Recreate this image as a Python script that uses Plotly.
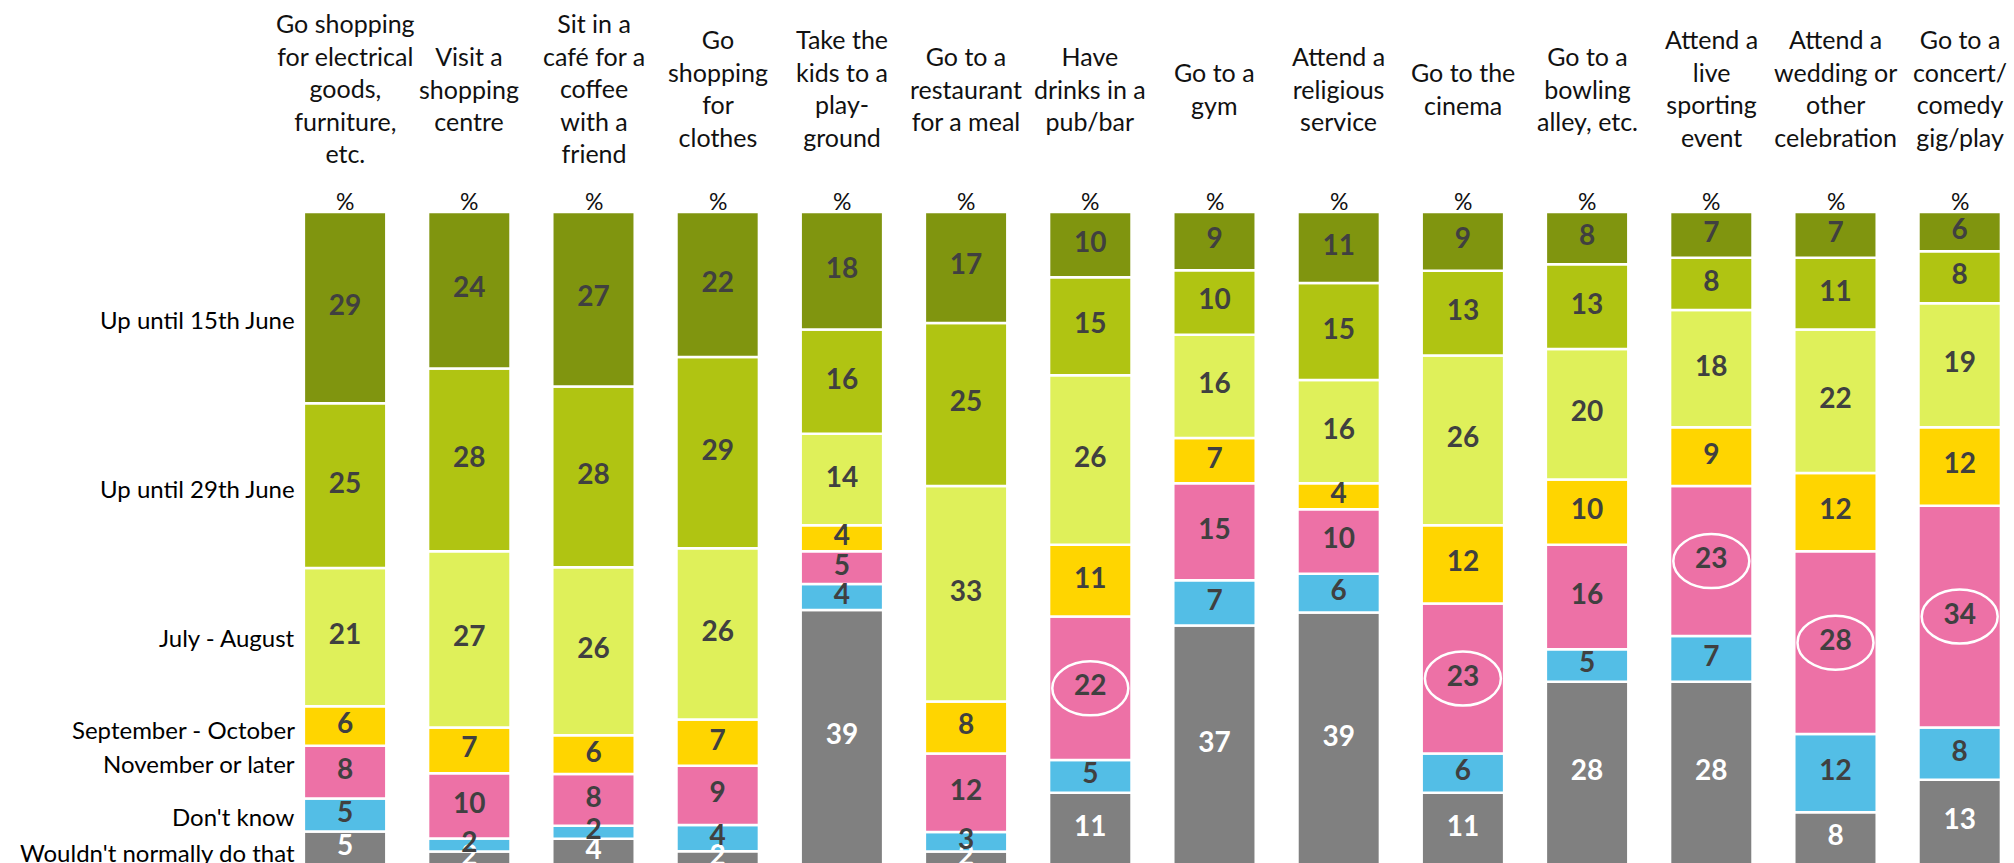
import plotly.graph_objects as go

# Activities (column headers, wrapped as printed)
activities = [
    "Go shopping<br>for electrical<br>goods,<br>furniture,<br>etc.",
    "Visit a<br>shopping<br>centre",
    "Sit in a<br>café for a<br>coffee<br>with a<br>friend",
    "Go<br>shopping<br>for<br>clothes",
    "Take the<br>kids to a<br>play-<br>ground",
    "Go to a<br>restaurant<br>for a meal",
    "Have<br>drinks in a<br>pub/bar",
    "Go to a<br>gym",
    "Attend a<br>religious<br>service",
    "Go to the<br>cinema",
    "Go to a<br>bowling<br>alley, etc.",
    "Attend a<br>live<br>sporting<br>event",
    "Attend a<br>wedding or<br>other<br>celebration",
    "Go to a<br>concert/<br>comedy<br>gig/play",
]

# Answer categories, listed top of bar to bottom
answers = [
    "Up until 15th June",
    "Up until 29th June",
    "July - August",
    "September - October",
    "November or later",
    "Don't know",
    "Wouldn't normally do that",
]

# Percentages per activity
up_to_15_june = [29, 24, 27, 22, 18, 17, 10, 9, 11, 9, 8, 7, 7, 6]
up_to_29_june = [25, 28, 28, 29, 16, 25, 15, 10, 15, 13, 13, 8, 11, 8]
july_august = [21, 27, 26, 26, 14, 33, 26, 16, 16, 26, 20, 18, 22, 19]
sept_october = [6, 7, 6, 7, 4, 8, 11, 7, 4, 12, 10, 9, 12, 12]
november_later = [8, 10, 8, 9, 5, 12, 22, 15, 10, 23, 16, 23, 28, 34]
dont_know = [5, 2, 2, 4, 4, 3, 5, 7, 6, 6, 5, 7, 12, 8]
wouldnt_do = [5, 2, 4, 2, 39, 2, 11, 37, 39, 11, 28, 28, 8, 13]

# Activities whose "November or later" share is ringed
ringed = [6, 9, 11, 12, 13]

series = [up_to_15_june, up_to_29_june, july_august, sept_october,
          november_later, dont_know, wouldnt_do]
colors = ["#80950F", "#B0C412", "#DFF05A", "#FFD500", "#ED71A6", "#53BEE6", "#808080"]
label_colors = ["#404040"] * 6 + ["#FFFFFF"]

# ---- layout geometry (pixels) ----
W, H = 2014, 863
LEFT, TOP = 283, 212
plot_w, plot_h = W - LEFT, H - TOP
STEP = 124.2          # pixels per activity column
PX_PER_PCT = 6.525    # pixels per percentage point
x_max = -0.5 + plot_w / STEP
y_min = 100 - plot_h / PX_PER_PCT


def paper_y(py):
    return (H - py) / plot_h


FONT = "Lato"
n = len(activities)
xs = list(range(n))
totals = [sum(s[i] for s in series) for i in range(n)]

fig = go.Figure()

# stack from bottom (last answer) to top (first answer), each column as 100%
order = list(range(len(series)))[::-1]
bases = [0.0] * n
centres = {}
for k in order:
    shares = [series[k][i] / totals[i] * 100 for i in range(n)]
    fig.add_trace(go.Bar(
        x=xs, y=shares, base=bases[:], width=0.664,
        marker=dict(color=colors[k], line=dict(color="white", width=2.5)),
        name=answers[k], hoverinfo="skip",
    ))
    centres[k] = [bases[i] + shares[i] / 2 for i in range(n)]
    bases = [bases[i] + shares[i] for i in range(n)]

# value labels
for k in order:
    fig.add_trace(go.Scatter(
        x=xs, y=centres[k], mode="text",
        text=[f"<b>{v}</b>" for v in series[k]],
        textfont=dict(family=FONT, size=28, color=label_colors[k]),
        textposition="middle center", cliponaxis=True, hoverinfo="skip",
    ))

annotations = []
# column headers and "%" captions
for i, lab in enumerate(activities):
    annotations.append(dict(
        x=i, xref="x", y=paper_y(88), yref="paper", text=lab, showarrow=False,
        xanchor="center", yanchor="middle", align="center",
        font=dict(family=FONT, size=25, color="#111111"),
    ))
    annotations.append(dict(
        x=i, xref="x", y=paper_y(201), yref="paper", text="%", showarrow=False,
        xanchor="center", yanchor="middle",
        font=dict(family=FONT, size=23, color="#111111"),
    ))

# answer labels beside the first column, nudged in pixels
nudge_px = [-12, -3, 0, -3, 9, -1, -4]
for k, name in enumerate(answers):
    annotations.append(dict(
        x=0, xref="paper", xshift=14, y=centres[k][0], yref="y", yshift=nudge_px[k],
        text=name, showarrow=False, xanchor="right", yanchor="middle",
        font=dict(family=FONT, size=24, color="#000000"),
    ))

# rings around highlighted "November or later" values
nov = answers.index("November or later")
shapes = []
for i in ringed:
    shapes.append(dict(
        type="circle", xref="x", yref="y", xsizemode="pixel", ysizemode="pixel",
        xanchor=i, yanchor=centres[nov][i], x0=-38, x1=38, y0=-27, y1=27,
        line=dict(color="white", width=2.5), layer="above",
    ))

fig.update_layout(
    width=W, height=H, barmode="overlay", showlegend=False,
    margin=dict(l=LEFT, r=0, t=TOP, b=0, pad=0),
    paper_bgcolor="white", plot_bgcolor="white",
    xaxis=dict(range=[-0.5, x_max], visible=False, fixedrange=True),
    yaxis=dict(range=[y_min, 100], visible=False, fixedrange=True),
    annotations=annotations, shapes=shapes,
)

fig.write_html("out.html")
